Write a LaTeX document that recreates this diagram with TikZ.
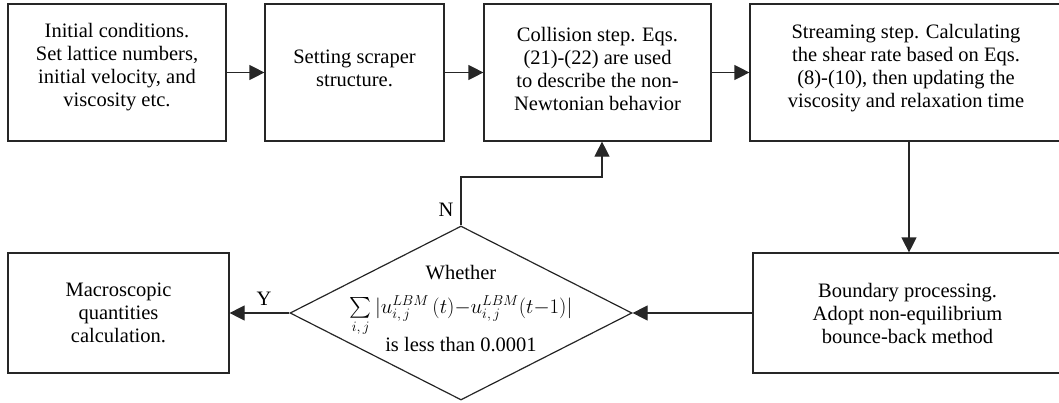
\documentclass[tikz,border=0pt]{standalone}
\usepackage{amsmath}
\usepackage{exscale}
\usepackage{fontspec}
\setmainfont{Liberation Serif}
\usetikzlibrary{shapes.geometric,arrows.meta}
\begin{document}
\begin{tikzpicture}[x=1pt,y=-1pt,
  every node/.style={font=\fontsize{20.5}{23}\selectfont},
  stepbox/.style={draw=black!85,line width=1.2pt,rectangle,inner sep=0pt},
  boxtext/.style={align=center,inner sep=0pt},
  decide/.style={draw=black!85,line width=1.2pt,diamond,inner sep=0pt,
    minimum width=342pt,minimum height=174pt},
  arr/.style={draw=black!85,line width=1.2pt,-{Triangle[length=15pt,width=15pt]}}]
\useasboundingbox (0,0) rectangle (1059,402);

% top row: frames, then their texts set a little above centre
\node[stepbox,minimum width=218pt,minimum height=137pt] (b1) at (117,72.5) {};
\node[stepbox,minimum width=179pt,minimum height=137pt] (b2) at (354.5,72.5) {};
\node[stepbox,minimum width=227pt,minimum height=137pt] (b3) at (597.5,72.5) {};
\node[stepbox,minimum width=312pt,minimum height=137pt] (b4) at (906,72.5) {};
\node[boxtext] (t1) at ([yshift=5pt]b1.center)
  {Initial conditions.\\Set lattice numbers,\\initial velocity, and\\viscosity etc.};
\node[boxtext] (t2) at ([yshift=4pt]b2.center)
  {Setting scraper\\structure.};
\node[boxtext] (t3) at ([yshift=4pt]b3.center)
  {Collision step. Eqs.\\(21)-(22) are used\\to describe the non-\\Newtonian behavior};
\node[boxtext] (t4) at ([yshift=4pt]b4.center)
  {Streaming step. Calculating\\the shear rate based on Eqs.\\(8)-(10), then updating the\\viscosity and relaxation time};

% bottom row
\node[stepbox,align=center,minimum width=221pt,minimum height=120pt] (b6) at (118.5,313)
  {Macroscopic\\quantities\\calculation.};
\node[stepbox,align=center,minimum width=309pt,minimum height=120pt] (b5) at (907.5,313)
  {Boundary processing.\\Adopt non-equilibrium\\bounce-back method};
\node[decide] (dia) at (461,313) {};

% the convergence test, line by line
\node[boxtext] (dq1) at (461,273) {Whether};
\node[boxtext] (dq2) at (461,316)
  {$\sum\limits_{i,\,j}|u^{LBM}_{i,\,j}\,(t){-}u^{LBM}_{i,\,j}(t{-}1)|$};
\node[boxtext] (dq3) at (461,345) {is less than 0.0001};

% connectors
\draw[arr] (b1.east) -- (b2.west);
\draw[arr] (b2.east) -- (b3.west);
\draw[arr] (b3.east) -- (b4.west);
\draw[arr] ([xshift=3pt]b4.south) -- ([xshift=3pt]b4.south |- b5.north);
\draw[arr] (b5.west) -- (dia.east);
\draw[arr] (dia.west) -- (b6.east);
\coordinate (bend) at (602,177);
\draw[arr] (dia.north) |- (bend) -- (bend |- b3.south);

% branch labels
\node (lblN) at (446,210) {N};
\node (lblY) at (264,299) {Y};
\end{tikzpicture}
\end{document}
